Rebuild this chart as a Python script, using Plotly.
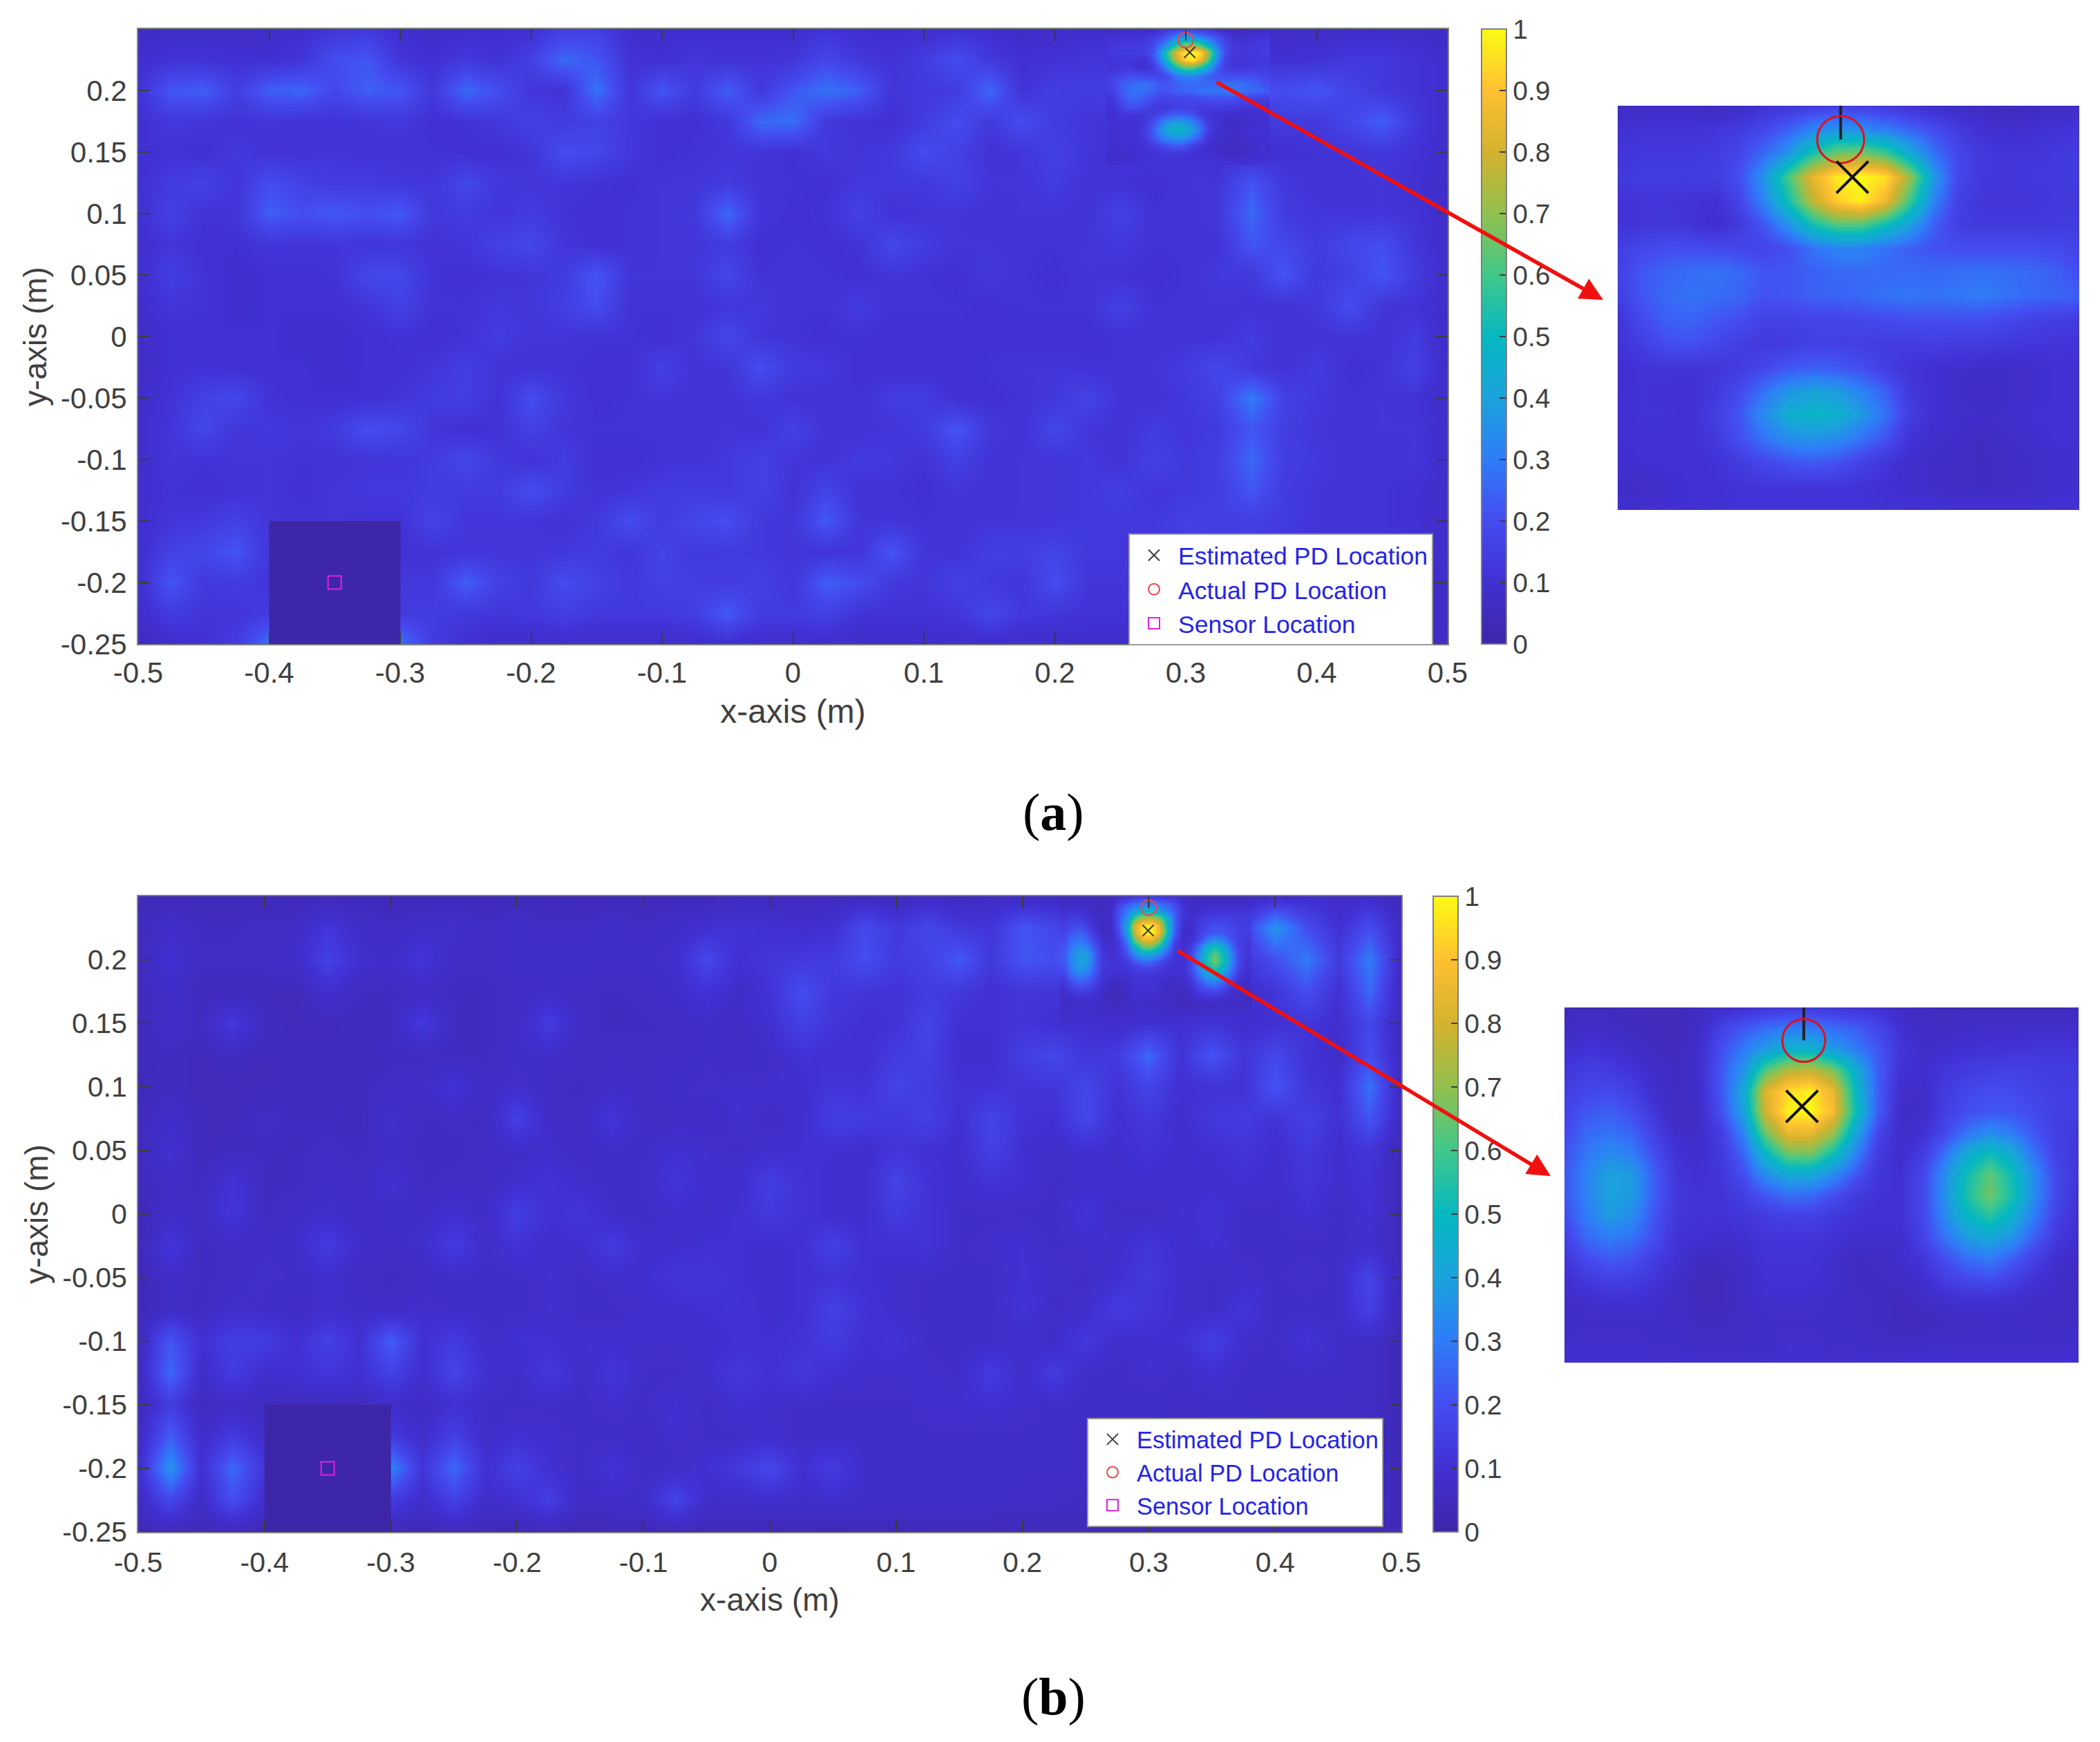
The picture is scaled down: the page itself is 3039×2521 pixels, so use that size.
import numpy as np
import plotly.graph_objects as go

W = 3039
H = 2521

# parula-like colours
cmap = [[0.0, "#3e26a8"], [0.1, "#4130d2"], [0.2, "#444cf0"], [0.3, "#2f7cf8"],
        [0.4, "#1aa2dc"], [0.5, "#05b8c0"], [0.6, "#40c88a"], [0.7, "#92c04e"],
        [0.8, "#d4b22e"], [0.9, "#ffc032"], [1.0, "#fbfb14"]]

x_ticks = [-0.5, -0.4, -0.3, -0.2, -0.1, 0, 0.1, 0.2, 0.3, 0.4, 0.5]
x_labels = ["-0.5", "-0.4", "-0.3", "-0.2", "-0.1", "0", "0.1", "0.2", "0.3", "0.4", "0.5"]
y_ticks = [-0.25, -0.2, -0.15, -0.1, -0.05, 0, 0.05, 0.1, 0.15, 0.2]
y_labels = ["-0.25", "-0.2", "-0.15", "-0.1", "-0.05", "0", "0.05", "0.1", "0.15", "0.2"]

# main grid, 0.025 m spacing, rows go from y=0.25 down to y=-0.25, values in percent
grid_x = [round(-0.5 + 0.025 * i, 3) for i in range(41)]
grid_y = [round(0.25 - 0.025 * i, 3) for i in range(21)]

map_a = [
    [7, 8, 8, 8, 8, 9, 12, 13, 9, 8, 9, 9, 10, 15, 15, 9, 9, 9, 9, 9, 9, 11, 9, 9, 9, 10, 9, 8, 8, 9, 8, 8, 8, 8, 8, 8, 8, 8, 8, 8, 7],
    [9, 11, 11, 10, 10, 12, 20, 22, 12, 10, 13, 11, 16, 26, 22, 11, 10, 12, 11, 11, 12, 18, 13, 11, 14, 20, 13, 10, 11, 12, 12, 14, 20, 14, 11, 10, 11, 13, 13, 11, 9],
    [11, 22, 24, 15, 24, 25, 18, 24, 22, 13, 26, 20, 12, 11, 28, 12, 22, 14, 24, 13, 22, 28, 24, 12, 13, 14, 26, 11, 15, 14, 15, 24, 13, 11, 20, 20, 22, 17, 13, 11, 9],
    [10, 13, 12, 11, 12, 11, 11, 12, 13, 10, 11, 13, 16, 14, 16, 13, 10, 10, 13, 26, 27, 13, 11, 10, 14, 20, 13, 20, 14, 12, 11, 15, 13, 11, 13, 14, 13, 18, 24, 13, 8],
    [10, 11, 10, 13, 11, 11, 12, 11, 11, 11, 10, 10, 12, 20, 18, 13, 10, 11, 12, 12, 10, 13, 12, 13, 20, 16, 11, 12, 16, 12, 11, 12, 11, 10, 9, 10, 11, 12, 13, 11, 8],
    [10, 14, 16, 12, 20, 16, 14, 14, 13, 12, 18, 13, 12, 12, 11, 10, 12, 12, 14, 11, 11, 10, 13, 13, 13, 16, 12, 12, 14, 11, 11, 10, 12, 12, 22, 13, 11, 11, 12, 10, 8],
    [10, 16, 11, 12, 24, 20, 23, 20, 23, 13, 14, 12, 14, 11, 10, 11, 12, 13, 26, 12, 10, 11, 16, 11, 12, 12, 11, 12, 12, 11, 16, 11, 11, 13, 26, 14, 12, 12, 12, 11, 8],
    [9, 12, 10, 10, 12, 12, 12, 12, 12, 11, 12, 16, 18, 12, 10, 11, 12, 12, 14, 10, 11, 10, 11, 18, 14, 12, 12, 11, 11, 12, 13, 11, 11, 11, 22, 18, 14, 18, 20, 12, 8],
    [9, 15, 11, 9, 10, 10, 11, 18, 18, 11, 10, 11, 12, 14, 22, 12, 12, 12, 18, 11, 12, 11, 10, 12, 11, 10, 13, 11, 10, 12, 11, 10, 11, 13, 13, 22, 13, 16, 22, 14, 8],
    [8, 12, 11, 9, 10, 10, 10, 12, 16, 11, 11, 13, 12, 15, 20, 11, 11, 11, 12, 13, 11, 11, 14, 11, 11, 11, 10, 11, 11, 11, 16, 11, 11, 12, 11, 11, 13, 20, 12, 11, 8],
    [8, 10, 10, 10, 10, 9, 9, 10, 11, 10, 11, 14, 12, 12, 11, 11, 10, 12, 18, 12, 11, 10, 11, 10, 10, 10, 10, 10, 10, 10, 11, 11, 11, 11, 14, 11, 11, 12, 11, 14, 7],
    [8, 10, 11, 10, 10, 10, 9, 10, 10, 12, 15, 11, 11, 11, 10, 10, 16, 11, 12, 20, 14, 13, 10, 10, 10, 10, 11, 12, 12, 11, 11, 12, 14, 18, 13, 11, 14, 10, 11, 16, 7],
    [8, 11, 16, 18, 11, 10, 10, 10, 12, 14, 15, 11, 20, 13, 10, 11, 12, 11, 11, 13, 11, 11, 11, 14, 14, 10, 10, 11, 13, 17, 11, 11, 13, 16, 30, 16, 13, 11, 12, 11, 7],
    [8, 12, 18, 12, 13, 12, 14, 20, 18, 12, 10, 11, 16, 12, 11, 11, 11, 11, 12, 11, 16, 11, 11, 12, 14, 22, 13, 11, 18, 12, 11, 14, 12, 14, 22, 15, 12, 11, 12, 12, 8],
    [8, 12, 11, 12, 12, 11, 11, 12, 12, 14, 18, 13, 11, 14, 10, 10, 11, 11, 13, 16, 12, 11, 14, 13, 11, 16, 11, 12, 12, 13, 11, 16, 13, 15, 26, 15, 13, 11, 11, 12, 8],
    [9, 11, 10, 11, 12, 10, 12, 13, 13, 14, 14, 14, 20, 14, 11, 12, 14, 14, 13, 16, 11, 17, 11, 11, 10, 12, 11, 12, 12, 13, 15, 12, 13, 15, 22, 14, 12, 11, 11, 10, 8],
    [9, 12, 13, 16, 12, 12, 12, 11, 11, 17, 12, 12, 12, 11, 13, 20, 14, 18, 20, 13, 12, 23, 12, 12, 11, 11, 12, 12, 12, 13, 13, 13, 16, 15, 15, 14, 12, 11, 11, 10, 8],
    [9, 16, 18, 22, 12, 10, 10, 10, 11, 11, 12, 12, 12, 13, 14, 12, 17, 13, 14, 13, 12, 11, 12, 22, 12, 11, 15, 15, 17, 13, 13, 13, 14, 15, 16, 11, 11, 11, 11, 11, 8],
    [9, 22, 13, 14, 12, 10, 10, 10, 13, 13, 24, 16, 13, 20, 16, 13, 16, 15, 14, 16, 12, 24, 20, 13, 12, 16, 13, 12, 20, 12, 12, 12, 12, 12, 12, 11, 12, 11, 10, 9, 7],
    [8, 14, 12, 12, 14, 10, 10, 10, 14, 14, 13, 12, 13, 15, 13, 13, 13, 15, 23, 14, 14, 16, 11, 11, 11, 12, 18, 13, 12, 11, 11, 11, 12, 11, 10, 10, 10, 10, 10, 9, 7],
    [6, 8, 10, 14, 28, 6, 6, 6, 28, 14, 10, 8, 8, 8, 8, 8, 8, 8, 9, 8, 8, 8, 8, 8, 8, 8, 8, 8, 8, 8, 8, 8, 8, 8, 8, 8, 8, 8, 8, 8, 6],
]

map_b = [
    [4, 4, 4, 4, 4, 4, 4, 4, 4, 4, 4, 4, 4, 4, 4, 4, 4, 4, 4, 5, 5, 5, 5, 5, 5, 6, 5, 6, 6, 6, 6, 6, 6, 6, 6, 5, 7, 8, 7, 7, 4],
    [5, 8, 6, 6, 7, 7, 12, 8, 7, 8, 9, 7, 8, 7, 7, 8, 7, 8, 10, 11, 10, 9, 10, 19, 13, 18, 13, 12, 22, 18, 14, 16, 30, 18, 14, 15, 36, 20, 10, 20, 6],
    [5, 10, 7, 7, 7, 8, 16, 9, 8, 12, 7, 7, 8, 8, 8, 8, 8, 9, 18, 10, 12, 13, 14, 20, 14, 16, 23, 13, 22, 20, 28, 12, 20, 12, 30, 12, 20, 30, 14, 30, 6],
    [5, 8, 5, 5, 5, 5, 9, 6, 6, 7, 6, 6, 7, 8, 7, 6, 7, 8, 11, 8, 11, 20, 13, 12, 11, 14, 13, 10, 12, 12, 14, 10, 10, 10, 14, 8, 12, 20, 10, 26, 5],
    [5, 8, 6, 13, 6, 5, 5, 6, 6, 13, 6, 6, 7, 14, 7, 6, 6, 7, 8, 7, 10, 16, 12, 10, 11, 17, 10, 10, 12, 10, 10, 8, 10, 10, 11, 9, 10, 12, 9, 18, 5],
    [5, 6, 5, 6, 5, 6, 6, 5, 6, 6, 6, 6, 8, 8, 7, 7, 7, 7, 8, 7, 8, 11, 10, 10, 14, 16, 9, 9, 15, 18, 12, 14, 26, 11, 22, 12, 18, 11, 8, 20, 5],
    [4, 6, 5, 5, 5, 6, 6, 6, 7, 8, 11, 7, 9, 7, 6, 8, 7, 8, 9, 9, 9, 9, 12, 11, 17, 14, 11, 11, 12, 12, 18, 11, 17, 10, 11, 11, 22, 12, 10, 28, 5],
    [5, 8, 5, 5, 7, 6, 6, 5, 9, 6, 7, 6, 16, 7, 7, 12, 7, 7, 7, 9, 8, 9, 15, 14, 13, 16, 10, 17, 11, 10, 18, 10, 13, 9, 13, 14, 11, 16, 10, 22, 5],
    [5, 10, 5, 6, 6, 6, 7, 6, 8, 6, 6, 7, 8, 9, 7, 8, 8, 10, 9, 8, 9, 10, 10, 9, 12, 10, 9, 16, 10, 8, 10, 9, 11, 9, 10, 12, 9, 13, 9, 12, 4],
    [5, 7, 6, 11, 6, 6, 8, 7, 10, 6, 7, 7, 9, 11, 9, 8, 8, 12, 9, 9, 15, 11, 9, 9, 17, 11, 9, 11, 10, 8, 9, 9, 9, 9, 9, 10, 9, 12, 9, 11, 4],
    [4, 8, 7, 12, 6, 8, 9, 7, 8, 8, 10, 8, 15, 10, 12, 8, 8, 9, 9, 10, 13, 11, 9, 9, 14, 11, 8, 8, 8, 8, 11, 8, 8, 9, 11, 8, 8, 10, 8, 10, 4],
    [4, 12, 6, 7, 8, 8, 14, 8, 7, 9, 14, 8, 11, 9, 9, 14, 9, 9, 10, 10, 9, 10, 16, 10, 10, 11, 8, 9, 10, 8, 9, 9, 12, 9, 10, 8, 8, 8, 8, 9, 4],
    [4, 8, 6, 7, 9, 8, 9, 7, 6, 7, 8, 8, 8, 9, 8, 9, 9, 12, 12, 10, 9, 10, 11, 10, 9, 8, 8, 8, 10, 9, 8, 10, 13, 9, 8, 9, 8, 9, 8, 17, 4],
    [4, 7, 6, 9, 8, 7, 9, 8, 7, 9, 8, 8, 8, 9, 8, 8, 9, 9, 10, 11, 9, 10, 16, 11, 9, 8, 8, 8, 11, 8, 9, 14, 12, 9, 8, 12, 8, 8, 8, 16, 4],
    [5, 22, 10, 15, 14, 10, 16, 10, 24, 10, 14, 8, 10, 10, 9, 9, 9, 9, 9, 10, 10, 11, 14, 10, 11, 8, 8, 8, 9, 8, 13, 9, 9, 10, 15, 9, 8, 11, 8, 7, 4],
    [5, 26, 8, 14, 9, 10, 12, 10, 16, 9, 17, 10, 8, 13, 8, 12, 8, 8, 9, 13, 10, 13, 10, 9, 9, 9, 8, 14, 8, 14, 8, 8, 9, 8, 10, 8, 8, 8, 8, 7, 4],
    [5, 14, 6, 7, 6, 6, 6, 6, 8, 7, 10, 8, 8, 8, 8, 9, 8, 10, 8, 10, 9, 8, 8, 8, 8, 9, 9, 10, 9, 8, 8, 8, 8, 7, 8, 8, 7, 7, 7, 7, 4],
    [6, 24, 8, 14, 8, 3, 3, 3, 14, 8, 16, 8, 10, 9, 8, 8, 7, 9, 8, 8, 9, 8, 8, 8, 8, 8, 8, 8, 8, 8, 7, 7, 7, 7, 7, 7, 7, 7, 7, 6, 4],
    [8, 36, 10, 26, 12, 3, 3, 3, 32, 12, 26, 10, 16, 10, 8, 11, 8, 8, 10, 13, 18, 10, 14, 8, 8, 8, 8, 8, 8, 8, 7, 7, 7, 7, 7, 7, 7, 6, 6, 6, 4],
    [6, 18, 7, 20, 8, 3, 3, 3, 14, 8, 16, 8, 10, 15, 7, 8, 8, 17, 8, 8, 9, 8, 9, 8, 8, 8, 8, 8, 7, 7, 6, 6, 6, 6, 6, 6, 6, 6, 6, 6, 4],
    [4, 4, 4, 4, 4, 4, 4, 4, 4, 4, 4, 4, 4, 4, 4, 4, 4, 4, 4, 4, 4, 4, 4, 4, 4, 4, 4, 4, 4, 4, 4, 4, 4, 4, 4, 4, 4, 4, 4, 4, 4],
]

# close-up around the peak, also drawn over the main map
zoom_a_x = [0.243, 0.361]
zoom_a_y = [0.25, 0.1424]
zoom_a = [
    [6, 7, 7, 7, 6, 7, 10, 12, 14, 15, 15, 13, 11, 8, 7, 6, 5, 6, 6, 7],
    [10, 11, 11, 11, 12, 14, 18, 24, 32, 36, 34, 30, 25, 20, 14, 10, 9, 10, 11, 12],
    [12, 13, 13, 13, 14, 18, 26, 36, 54, 66, 68, 60, 44, 28, 18, 13, 12, 12, 13, 14],
    [13, 14, 14, 14, 15, 20, 36, 60, 84, 97, 100, 96, 72, 38, 18, 13, 12, 13, 13, 14],
    [11, 12, 12, 11, 10, 17, 32, 52, 76, 92, 98, 86, 60, 32, 16, 12, 12, 12, 13, 13],
    [11, 12, 13, 11, 9, 13, 22, 35, 52, 62, 62, 52, 40, 24, 15, 13, 13, 13, 14, 14],
    [15, 18, 20, 20, 19, 18, 17, 20, 28, 32, 32, 28, 24, 21, 20, 20, 20, 20, 19, 17],
    [16, 22, 25, 27, 28, 26, 22, 22, 24, 26, 26, 26, 26, 26, 27, 28, 27, 26, 24, 20],
    [15, 22, 26, 28, 27, 25, 21, 22, 24, 25, 26, 28, 29, 28, 29, 30, 28, 26, 25, 24],
    [11, 19, 24, 25, 22, 20, 16, 16, 17, 17, 18, 19, 20, 20, 20, 20, 18, 16, 15, 14],
    [11, 15, 20, 21, 18, 15, 13, 14, 16, 16, 15, 14, 14, 15, 14, 14, 13, 12, 12, 11],
    [9, 11, 12, 11, 12, 14, 18, 22, 24, 23, 20, 15, 11, 10, 9, 8, 8, 9, 10, 10],
    [10, 11, 10, 10, 13, 19, 28, 36, 40, 38, 32, 24, 13, 10, 8, 7, 8, 9, 10, 10],
    [10, 11, 11, 10, 15, 22, 34, 44, 48, 46, 38, 28, 15, 10, 9, 8, 9, 10, 10, 10],
    [10, 10, 10, 10, 13, 20, 28, 34, 36, 34, 28, 21, 11, 9, 8, 6, 8, 9, 10, 10],
    [9, 10, 10, 10, 11, 14, 18, 21, 23, 21, 16, 12, 9, 8, 7, 6, 7, 8, 9, 9],
    [8, 8, 9, 10, 10, 11, 12, 12, 12, 12, 11, 10, 9, 8, 7, 6, 7, 8, 9, 9],
    [9, 9, 10, 10, 11, 11, 11, 11, 11, 11, 11, 11, 11, 11, 10, 10, 10, 10, 11, 11],
]

zoom_b_x = [0.2325, 0.3775]
zoom_b_y = [0.25, 0.153]
zoom_b = [
    [5, 5, 5, 5, 5, 5, 6, 8, 10, 12, 13, 13, 12, 11, 10, 7, 6, 5, 5, 5, 5, 5, 5, 5],
    [6, 8, 7, 6, 5, 5, 7, 16, 22, 27, 30, 30, 27, 24, 18, 10, 7, 7, 8, 8, 8, 8, 8, 8],
    [9, 11, 10, 8, 6, 5, 8, 20, 30, 38, 46, 46, 38, 30, 22, 12, 8, 9, 10, 11, 11, 12, 12, 12],
    [12, 15, 14, 11, 8, 6, 9, 22, 36, 62, 75, 78, 68, 45, 24, 11, 9, 12, 14, 15, 16, 15, 14, 14],
    [15, 18, 19, 15, 9, 6, 8, 22, 42, 82, 95, 98, 85, 50, 24, 9, 8, 14, 18, 20, 19, 17, 15, 15],
    [17, 22, 24, 20, 12, 6, 7, 20, 40, 80, 98, 100, 88, 52, 24, 8, 8, 15, 20, 22, 22, 19, 15, 15],
    [19, 26, 28, 25, 16, 8, 8, 15, 32, 66, 85, 85, 72, 42, 18, 8, 10, 18, 28, 34, 30, 22, 15, 13],
    [21, 29, 34, 31, 20, 11, 9, 13, 25, 48, 65, 66, 52, 32, 14, 9, 14, 28, 44, 52, 44, 28, 16, 12],
    [22, 32, 40, 38, 24, 12, 10, 12, 20, 34, 42, 42, 34, 22, 12, 10, 18, 34, 52, 64, 52, 34, 18, 12],
    [22, 32, 40, 38, 24, 13, 11, 11, 15, 22, 27, 26, 20, 14, 11, 10, 18, 35, 54, 66, 54, 34, 18, 11],
    [20, 30, 38, 34, 22, 12, 11, 11, 12, 14, 16, 16, 13, 11, 10, 10, 18, 33, 48, 56, 46, 30, 16, 10],
    [16, 26, 30, 28, 20, 11, 10, 9, 10, 12, 12, 12, 11, 9, 9, 9, 16, 28, 38, 42, 36, 24, 13, 9],
    [12, 19, 23, 21, 15, 10, 6, 6, 8, 11, 11, 11, 9, 6, 7, 8, 12, 20, 27, 30, 24, 16, 9, 7],
    [9, 13, 16, 15, 12, 8, 5, 5, 7, 10, 10, 10, 9, 6, 6, 7, 9, 15, 18, 20, 16, 11, 8, 6],
    [8, 9, 10, 10, 9, 7, 5, 5, 7, 9, 9, 9, 8, 7, 6, 5, 7, 9, 10, 10, 9, 8, 7, 6],
    [8, 8, 8, 8, 8, 7, 6, 6, 7, 8, 8, 8, 8, 7, 6, 5, 5, 6, 7, 7, 8, 7, 7, 7],
    [8, 9, 9, 9, 8, 8, 7, 7, 7, 8, 9, 9, 8, 8, 7, 7, 7, 8, 8, 8, 8, 8, 8, 8],
    [9, 9, 9, 9, 9, 9, 9, 9, 9, 9, 9, 9, 9, 9, 9, 9, 10, 10, 10, 10, 10, 10, 10, 10],
]

# the excluded block around the sensor
block_x = [-0.4, -0.3]
block_y = [-0.25, -0.15]
block_z = [[0]]

actual_x = 0.3
actual_y = 0.241
sensor_x = -0.35
sensor_y = -0.2
est_a = (0.303, 0.231)
est_b = (0.2995, 0.223)


def pct(rows):
    # rows are written top row first
    return (np.array(rows[::-1]) / 100).tolist()


def xdom(left, right):
    return [left / W, right / W]


def ydom(top, bottom):
    return [1 - bottom / H, 1 - top / H]


def heat(x, y, z, xa, ya, color, smooth="best"):
    return go.Heatmap(x=x, y=y, z=z, xaxis=xa, yaxis=ya, coloraxis=color, zsmooth=smooth,
                      showscale=False, hoverinfo="skip")


def axis_style(size, standoff):
    return dict(ticks="inside", ticklen=17, tickwidth=2, tickcolor="#3c3c3c", showline=True,
                linecolor="#808080", linewidth=2, mirror="ticks", showgrid=False, zeroline=False,
                ticklabelstandoff=standoff,
                tickfont=dict(family="Liberation Sans", size=size, color="#404040"))


fig = go.Figure()


def add_panel(z, zoom_z, zoom_x, zoom_y, est, xa, ya, inset_xa, inset_ya, color, legend, ring):
    xn = xa.replace("axis", "")
    yn = ya.replace("axis", "")
    ixn = inset_xa.replace("axis", "")
    iyn = inset_ya.replace("axis", "")
    zx = np.linspace(zoom_x[0], zoom_x[1], len(zoom_z[0])).tolist()
    zy = np.linspace(zoom_y[0], zoom_y[1], len(zoom_z)).tolist()[::-1]

    fig.add_trace(heat(grid_x, grid_y[::-1], pct(z), xn, yn, color))
    fig.add_trace(heat(zx, zy, pct(zoom_z), xn, yn, color))
    fig.add_trace(heat(block_x, block_y, block_z, xn, yn, color, smooth=False))
    fig.add_trace(heat(zx, zy, pct(zoom_z), ixn, iyn, color))

    # markers on the main map
    fig.add_trace(go.Scatter(x=[actual_x, actual_x], y=[zoom_y[0], actual_y], mode="lines",
                             line=dict(color="#222222", width=2), xaxis=xn, yaxis=yn,
                             showlegend=False, hoverinfo="skip"))
    fig.add_trace(go.Scatter(x=[est[0]], y=[est[1]], mode="markers", name="Estimated PD Location",
                             marker=dict(symbol="x-thin-open", size=16, color="#3a3a3a",
                                         line=dict(color="#3a3a3a", width=2)),
                             xaxis=xn, yaxis=yn, legend=legend, showlegend=True, hoverinfo="skip"))
    fig.add_trace(go.Scatter(x=[actual_x], y=[actual_y], mode="markers", name="Actual PD Location",
                             marker=dict(symbol="circle-open", size=22, color="#e8474c",
                                         line=dict(color="#e8474c", width=2)),
                             xaxis=xn, yaxis=yn, legend=legend, showlegend=True, hoverinfo="skip"))
    fig.add_trace(go.Scatter(x=[sensor_x], y=[sensor_y], mode="markers", name="Sensor Location",
                             marker=dict(symbol="square-open", size=19, color="#e020e0",
                                         line=dict(color="#e020e0", width=2)),
                             xaxis=xn, yaxis=yn, legend=legend, showlegend=True, hoverinfo="skip"))

    # markers on the close-up
    fig.add_trace(go.Scatter(x=[actual_x, actual_x], y=[zoom_y[0], actual_y], mode="lines",
                             line=dict(color="#202020", width=4), xaxis=ixn, yaxis=iyn,
                             showlegend=False, hoverinfo="skip"))
    fig.add_trace(go.Scatter(x=[actual_x], y=[actual_y], mode="markers",
                             marker=dict(symbol="circle-open", size=ring, color="#e01020",
                                         line=dict(color="#e01020", width=3)),
                             xaxis=ixn, yaxis=iyn, showlegend=False, hoverinfo="skip"))
    fig.add_trace(go.Scatter(x=[est[0]], y=[est[1]], mode="markers",
                             marker=dict(symbol="x-thin-open", size=46, color="#101010",
                                         line=dict(color="#101010", width=4)),
                             xaxis=ixn, yaxis=iyn, showlegend=False, hoverinfo="skip"))


add_panel(map_a, zoom_a, zoom_a_x, zoom_a_y, est_a, "xaxis", "yaxis", "xaxis2", "yaxis2",
          "coloraxis", "legend", 68)
add_panel(map_b, zoom_b, zoom_b_x, zoom_b_y, est_b, "xaxis3", "yaxis3", "xaxis4", "yaxis4",
          "coloraxis2", "legend2", 62)


def colorbar(left, top, length):
    return dict(x=left / W, xanchor="left", y=1 - top / H, yanchor="top", lenmode="pixels", len=length,
                thicknessmode="pixels", thickness=36, xpad=0, ypad=0, outlinecolor="#808080",
                outlinewidth=2, ticks="inside", ticklen=11, tickwidth=2, tickcolor="#3c3c3c",
                tick0=0, dtick=0.1, tickfont=dict(family="Liberation Sans", size=39, color="#404040"))


def legend_box(left, top, width, size):
    return dict(x=left / W, xanchor="left", y=1 - top / H, yanchor="top", bgcolor="white",
                bordercolor="#9a9a9a", borderwidth=2, itemwidth=60, itemsizing="trace",
                entrywidthmode="pixels", entrywidth=width,
                font=dict(family="Liberation Sans", size=size, color="#2424e6"))


def inset_axis(dom, rng, anchor):
    return dict(domain=dom, range=rng, anchor=anchor, visible=False)


def title_font(size):
    return dict(family="Liberation Sans", size=size, color="#404040")


fig.update_layout(
    width=W, height=H, margin=dict(l=0, r=0, t=0, b=0, autoexpand=False), paper_bgcolor="white", plot_bgcolor="white",
    xaxis=dict(domain=xdom(200, 2095), range=[-0.5, 0.5], anchor="y", tickvals=x_ticks, ticktext=x_labels,
               title=dict(text="x-axis (m)", standoff=16, font=title_font(48)), **axis_style(42, 4)),
    yaxis=dict(domain=ydom(42, 932), range=[-0.25, 0.25], anchor="x", tickvals=y_ticks, ticktext=y_labels,
               title=dict(text="y-axis (m)", standoff=6, font=title_font(46)), **axis_style(42, 6)),
    xaxis2=inset_axis(xdom(2341, 3009), zoom_a_x, "y2"),
    yaxis2=inset_axis(ydom(153, 738), zoom_a_y[::-1], "x2"),
    xaxis3=dict(domain=xdom(200, 2028), range=[-0.5, 0.5], anchor="y3", tickvals=x_ticks, ticktext=x_labels,
                title=dict(text="x-axis (m)", standoff=16, font=title_font(46)), **axis_style(41, 7)),
    yaxis3=dict(domain=ydom(1297, 2217), range=[-0.25, 0.25], anchor="x3", tickvals=y_ticks, ticktext=y_labels,
                title=dict(text="y-axis (m)", standoff=6, font=title_font(46)), **axis_style(41, 6)),
    xaxis4=inset_axis(xdom(2264, 3008), zoom_b_x, "y4"),
    yaxis4=inset_axis(ydom(1458, 1972), zoom_b_y[::-1], "x4"),
    coloraxis=dict(colorscale=cmap, cmin=0, cmax=1, colorbar=colorbar(2144, 42, 890)),
    coloraxis2=dict(colorscale=cmap, cmin=0, cmax=1, colorbar=colorbar(2074, 1297, 920)),
    legend=legend_box(1633, 772, 404, 35.5),
    legend2=legend_box(1573, 2052, 378, 34.4),
)

# red arrows from the peak to its close-up, pixel positions on the page
arrows = [((1759, 118), (2320, 434)), ((1703, 1375), (2244, 1702))]
for start, end in arrows:
    fig.add_annotation(xref="paper", yref="paper", x=end[0] / W, y=1 - end[1] / H, text="", showarrow=True,
                       axref="pixel", ayref="pixel", ax=start[0] - end[0], ay=start[1] - end[1],
                       arrowhead=2, arrowsize=1.2, arrowwidth=5.5, arrowcolor="#f01010", standoff=0)

for label, py in (("a", 1175), ("b", 2455)):
    fig.add_annotation(xref="paper", yref="paper", x=1524 / W, y=1 - py / H, showarrow=False,
                       text="(<b>%s</b>)" % label, xanchor="center", yanchor="middle",
                       font=dict(family="Liberation Serif", size=76, color="black"))

fig.write_html("out.html", config=dict(displayModeBar=False), post_script="document.body.style.margin='0';")
